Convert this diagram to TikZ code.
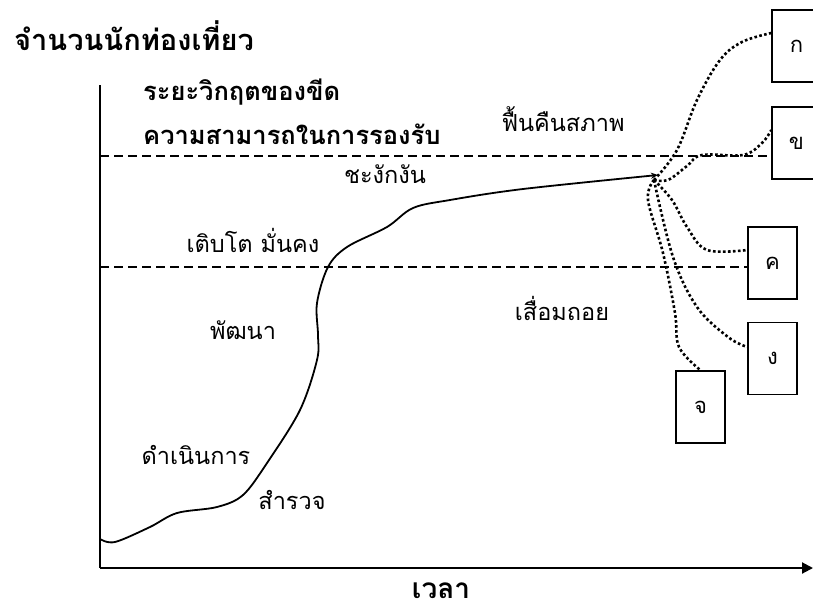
\documentclass[tikz,border=0pt]{standalone}
\usepackage{fontspec}
\newfontfamily\thai[Script=Thai]{Loma}
\usetikzlibrary{arrows.meta}
\tikzset{
  lbl/.style={font=\thai\fontsize{23.5}{26}\selectfont, inner sep=0pt},
  blbl/.style={font=\thai\bfseries\fontsize{25.5}{28}\selectfont, inner sep=0pt},
  box/.style={draw, line width=1.5pt, minimum width=49pt, minimum height=72pt, inner sep=0pt, font=\thai\fontsize{22}{24}\selectfont},
  axis/.style={line width=2pt},
  lim/.style={line width=1.5pt, dash pattern=on 9pt off 5pt},
  dotc/.style={line width=2.6pt, dash pattern=on 2.6pt off 2.4pt},
  curve/.style={line width=1.8pt},
}
\begin{document}
\begin{tikzpicture}[x=1pt,y=-1pt]
\useasboundingbox (0,0) rectangle (813,608);
\clip (0,0) rectangle (813,608);
% axes
\coordinate (o) at (100,568);
\coordinate (ytop) at (100,85);
\coordinate (xend) at (813,568);
\draw[axis] (ytop) -- (o);
\draw[axis,-{Triangle[length=11pt,width=11pt]}] (o) -- (xend);
% boxes
\node[box] (bk) at (796.5,46) {ก};
\node[box] (bkh) at (796.5,143) {ข};
\node[box] (bkk) at (772.5,263) {ค};
\node[box] (bng) at (772.5,358.5) {ง};
\node[box] (bch) at (700.5,407) {จ};
% dashed limits
\coordinate (l1a) at (100,156);
\coordinate (l2a) at (100,267);
\draw[lim] (l1a) -- (bkh.west |- l1a);
\draw[lim] (l2a) -- (bkk.west |- l2a);
% main curve
\coordinate (cend) at (658,175);
\draw[curve,-{Stealth[length=7pt,width=6pt]}] plot[smooth,tension=0.55] coordinates {(100,539) (115,542) (150,527) (177,513) (217,507) (243,495) (267,463) (300,410) (317,360) (318,335) (317,303) (328,267) (347,247) (387,227) (413,208) (450,200) (523,189) (cend)};
% dotted branches
\coordinate (sp) at (654,180);
\draw[dotc] plot[smooth,tension=0.6] coordinates {(sp) (677,150) (697,100) (720,60) (742,42) (bk.west |- 0,33)};
\draw[dotc] plot[smooth,tension=0.6] coordinates {(sp) (668,180) (687,166) (702,155) (743,155) (762,143) (bkh.west |- 0,130)};
\draw[dotc] plot[smooth,tension=0.6] coordinates {(sp) (672,200) (687,227) (707,250) (bkk.west |- 0,250)};
\draw[dotc] plot[smooth,tension=0.6] coordinates {(sp) (673,257) (697,307) (728,337) (bng.west |- 0,347)};
\draw[dotc] plot[smooth,tension=0.6] coordinates {(sp) (648,200) (663,253) (675,313) (679,347) (bch.north)};
% labels
\node[blbl,font=\thai\bfseries\fontsize{29}{32}\selectfont] (ty) at (134,36) {จำนวนนักท่องเที่ยว};
\node[blbl,anchor=west] (t1) at (143,92) {ระยะวิกฤตของขีด};
\node[blbl,anchor=west] (t2) at (143,134) {ความสามารถในการรองรับ};
\node[lbl] (rec) at (563,119) {ฟื้นคืนสภาพ};
\node[lbl] (stag) at (385,174) {ชะงักงัน};
\node[lbl] (grow) at (253,240) {เติบโต มั่นคง};
\node[lbl] (dec) at (562,308) {เสื่อมถอย};
\node[lbl] (dev) at (243,330) {พัฒนา};
\node[lbl] (inv) at (196,455) {ดำเนินการ};
\node[lbl] (exp) at (292,500) {สำรวจ};
\node[blbl,font=\thai\bfseries\fontsize{28}{30}\selectfont,anchor=base,text depth=0pt] (time) at (441,598) {เวลา};
\end{tikzpicture}
\end{document}
